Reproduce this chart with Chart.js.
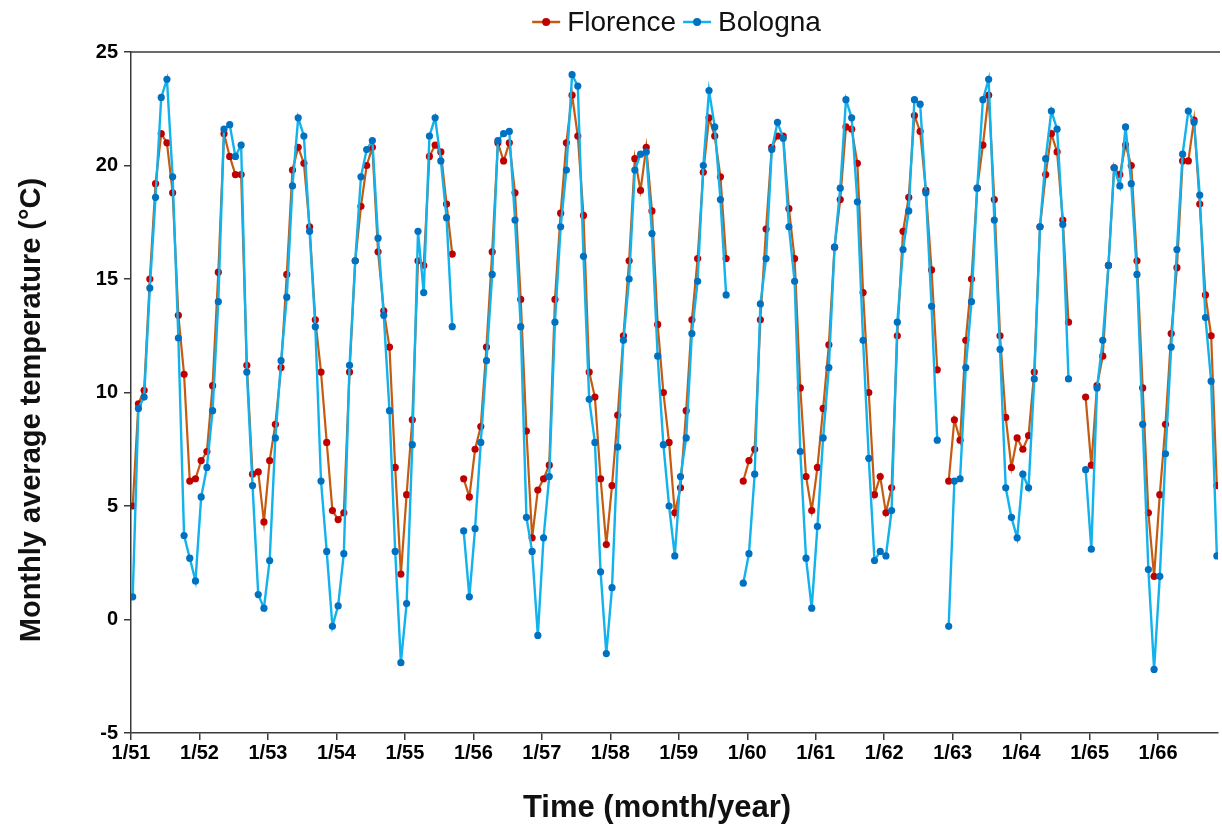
<!DOCTYPE html>
<html><head><meta charset="utf-8">
<script src="https://cdn.jsdelivr.net/npm/chart.js@4.4.1/dist/chart.umd.min.js"></script>
<style>html,body{margin:0;padding:0;background:#fff;overflow:hidden}canvas{display:block}</style>
</head><body>
<canvas id="c" width="1222" height="830"></canvas>
<script>
// ---- data (monthly, Jan 1951 .. Nov 1966; null = missing month) ----
const tickLabels = ['1/51','1/52','1/53','1/54','1/55','1/56','1/57','1/58','1/59','1/60','1/61','1/62','1/63','1/64','1/65','1/66'];
const seriesNames = ['Florence', 'Bologna'];
const florence = [
  5.0, 9.5, 10.1, 15.0, 19.2, 21.4, 21.0, 18.8, 13.4, 10.8, 6.1, 6.2,
  7.0, 7.4, 10.3, 15.3, 21.4, 20.4, 19.6, 19.6, 11.2, 6.4, 6.5, 4.3,
  7.0, 8.6, 11.1, 15.2, 19.8, 20.8, 20.1, 17.3, 13.2, 10.9, 7.8, 4.8,
  4.4, 4.7, 10.9, 15.8, 18.2, 20.0, 20.8, 16.2, 13.6, 12.0, 6.7, 2.0,
  5.5, 8.8, 15.8, 15.6, 20.4, 20.9, 20.6, 18.3, 16.1, null, 6.2, 5.4,
  7.5, 8.5, 12.0, 16.2, 21.0, 20.2, 21.0, 18.8, 14.1, 8.3, 3.6, 5.7,
  6.2, 6.8, 14.1, 17.9, 21.0, 23.1, 21.3, 17.8, 10.9, 9.8, 6.2, 3.3,
  5.9, 9.0, 12.5, 15.8, 20.3, 18.9, 20.8, 18.0, 13.0, 10.0, 7.8, 4.7,
  5.8, 9.2, 13.2, 15.9, 19.7, 22.1, 21.3, 19.5, 15.9, null, null, 6.1,
  7.0, 7.5, 13.2, 17.2, 20.8, 21.3, 21.3, 18.1, 15.9, 10.2, 6.3, 4.8,
  6.7, 9.3, 12.1, 16.4, 18.5, 21.7, 21.6, 20.1, 14.4, 10.0, 5.5, 6.3,
  4.7, 5.8, 12.5, 17.1, 18.6, 22.2, 21.5, 18.9, 15.4, 11.0, null, 6.1,
  8.8, 7.9, 12.3, 15.0, 19.0, 20.9, 23.1, 18.5, 12.5, 8.9, 6.7, 8.0,
  7.5, 8.1, 10.9, 17.3, 19.6, 21.4, 20.6, 17.6, 13.1, null, null, 9.8,
  6.8, 10.3, 11.6, 15.6, 19.9, 19.6, 20.9, 20.0, 15.8, 10.2, 4.7, 1.9,
  5.5, 8.6, 12.6, 15.5, 20.2, 20.2, 22.0, 18.3, 14.3, 12.5, 5.9
];
const bologna = [
  1.0, 9.3, 9.8, 14.6, 18.6, 23.0, 23.8, 19.5, 12.4, 3.7, 2.7, 1.7,
  5.4, 6.7, 9.2, 14.0, 21.6, 21.8, 20.4, 20.9, 10.9, 5.9, 1.1, 0.5,
  2.6, 8.0, 11.4, 14.2, 19.1, 22.1, 21.3, 17.1, 12.9, 6.1, 3.0, -0.3,
  0.6, 2.9, 11.2, 15.8, 19.5, 20.7, 21.1, 16.8, 13.4, 9.2, 3.0, -1.9,
  0.7, 7.7, 17.1, 14.4, 21.3, 22.1, 20.2, 17.7, 12.9, null, 3.9, 1.0,
  4.0, 7.8, 11.4, 15.2, 21.1, 21.4, 21.5, 17.6, 12.9, 4.5, 3.0, -0.7,
  3.6, 6.3, 13.1, 17.3, 19.8, 24.0, 23.5, 16.0, 9.7, 7.8, 2.1, -1.5,
  1.4, 7.6, 12.3, 15.0, 19.8, 20.5, 20.6, 17.0, 11.6, 7.7, 5.0, 2.8,
  6.3, 8.0, 12.6, 14.9, 20.0, 23.3, 21.7, 18.5, 14.3, null, null, 1.6,
  2.9, 6.4, 13.9, 15.9, 20.7, 21.9, 21.2, 17.3, 14.9, 7.4, 2.7, 0.5,
  4.1, 8.0, 11.1, 16.4, 19.0, 22.9, 22.1, 18.4, 12.3, 7.1, 2.6, 3.0,
  2.8, 4.8, 13.1, 16.3, 18.0, 22.9, 22.7, 18.8, 13.8, 7.9, null, -0.3,
  6.1, 6.2, 11.1, 14.0, 19.0, 22.9, 23.8, 17.6, 11.9, 5.8, 4.5, 3.6,
  6.4, 5.8, 10.6, 17.3, 20.3, 22.4, 21.6, 17.4, 10.6, null, null, 6.6,
  3.1, 10.2, 12.3, 15.6, 19.9, 19.1, 21.7, 19.2, 15.2, 8.6, 2.2, -2.2,
  1.9, 7.3, 12.0, 16.3, 20.5, 22.4, 21.9, 18.7, 13.3, 10.5, 2.8
];
const yTitle = 'Monthly average temperature (°C)';
const xTitle = 'Time (month/year)';

// ---- styling ----
const FONT = "'Liberation Sans', Arial, Helvetica, sans-serif";
const colors = {
  florenceLine: '#C55A11', florencePoint: '#C00000',
  bolognaLine: '#12B2EC', bolognaPoint: '#0070C0',
  axis: '#3a3a3a'
};
const X_MIN = -0.3, X_MAX = 190.2;

const toPoints = arr => arr.map((v, i) => ({ x: i, y: v }));

const legendPlugin = {
  id: 'customLegend',
  afterDraw(chart) {
    const ctx = chart.ctx;
    const items = [
      { text: seriesNames[0], line: colors.florenceLine, point: colors.florencePoint },
      { text: seriesNames[1], line: colors.bolognaLine, point: colors.bolognaPoint }
    ];
    ctx.save();
    ctx.font = `28px ${FONT}`;
    ctx.textBaseline = 'middle';
    const markW = 28, gap = 7, itemGap = 7;
    let total = 0;
    items.forEach((it, k) => { it.w = ctx.measureText(it.text).width; total += markW + gap + it.w + (k ? itemGap : 0); });
    let x = 676.5 - total / 2;
    const y = 22;
    items.forEach((it, k) => {
      if (k) x += itemGap;
      ctx.strokeStyle = it.line; ctx.lineWidth = 2.5;
      ctx.beginPath(); ctx.moveTo(x, y); ctx.lineTo(x + markW, y); ctx.stroke();
      ctx.fillStyle = it.point;
      ctx.beginPath(); ctx.arc(x + markW / 2, y, 4, 0, Math.PI * 2); ctx.fill();
      x += markW + gap;
      ctx.fillStyle = '#111';
      ctx.textAlign = 'left';
      ctx.fillText(it.text, x, y + 1);
      x += it.w;
    });
    ctx.restore();
  }
};

const framePlugin = {
  id: 'frameAndTitles',
  beforeDatasetsDraw(chart) {
    const { ctx, chartArea: a } = chart;
    ctx.save();
    ctx.strokeStyle = colors.axis; ctx.lineWidth = 1.5;
    ctx.beginPath(); ctx.moveTo(a.left, a.top); ctx.lineTo(a.right + 2, a.top); ctx.stroke();
    ctx.restore();
  },
  afterDraw(chart) {
    const ctx = chart.ctx;
    ctx.save();
    ctx.fillStyle = '#111';
    ctx.textAlign = 'center'; ctx.textBaseline = 'middle';
    ctx.font = `bold 31px ${FONT}`;
    ctx.fillText(xTitle, 657, 808);
    ctx.font = `bold 29px ${FONT}`;
    ctx.translate(32, 410);
    ctx.rotate(-Math.PI / 2);
    ctx.fillText(yTitle, 0, 0);
    ctx.restore();
  }
};

new Chart(document.getElementById('c'), {
  type: 'line',
  data: {
    datasets: [
      {
        label: seriesNames[0], data: toPoints(florence), order: 1,
        borderColor: colors.florenceLine, borderWidth: 2.2,
        pointBackgroundColor: colors.florencePoint, pointBorderColor: colors.florencePoint,
        pointRadius: 3.6, pointBorderWidth: 0, spanGaps: false, tension: 0
      },
      {
        label: seriesNames[1], data: toPoints(bologna), order: 0,
        borderColor: colors.bolognaLine, borderWidth: 2.4,
        pointBackgroundColor: colors.bolognaPoint, pointBorderColor: colors.bolognaPoint,
        pointRadius: 3.6, pointBorderWidth: 0, spanGaps: false, tension: 0
      }
    ]
  },
  options: {
    responsive: false, animation: false, devicePixelRatio: 1,
    layout: { padding: { top: 52, right: 0, left: 0, bottom: 0 } },
    plugins: { legend: { display: false }, tooltip: { enabled: false } },
    scales: {
      x: {
        type: 'linear', min: X_MIN, max: X_MAX,
        afterBuildTicks: s => { s.ticks = tickLabels.map((_, k) => ({ value: X_MIN + 12 * k })); },
        afterFit: s => { s.height = 97; s.paddingRight = 0; s.paddingLeft = 0; },
        ticks: {
          autoSkip: false, maxRotation: 0, padding: 1, color: '#000',
          font: { family: FONT, size: 20, weight: 'bold' },
          callback: (v, i) => tickLabels[i]
        },
        grid: { drawOnChartArea: false, drawTicks: true, tickLength: 7, color: colors.axis, lineWidth: 1.5 },
        border: { display: true, color: colors.axis, width: 1.5 }
      },
      y: {
        min: -5, max: 25,
        afterFit: s => { s.width = 131; },
        ticks: {
          stepSize: 5, padding: 6, color: '#000',
          font: { family: FONT, size: 20, weight: 'bold' }
        },
        grid: { drawOnChartArea: false, drawTicks: true, tickLength: 7, color: colors.axis, lineWidth: 1.5 },
        border: { display: true, color: colors.axis, width: 1.5 }
      }
    }
  },
  plugins: [legendPlugin, framePlugin]
});
</script>
</body></html>
